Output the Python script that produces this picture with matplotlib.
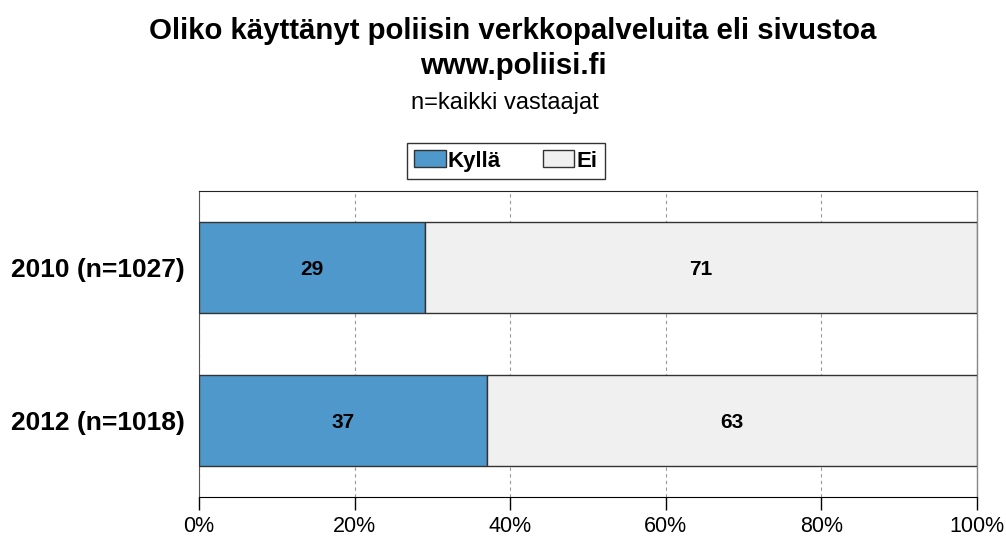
import matplotlib
matplotlib.use("Agg")
import matplotlib.pyplot as plt
from matplotlib.patches import Patch

plt.rcParams['font.family'] = ['Liberation Sans', 'DejaVu Sans']

categories = ["2010 (n=1027)", "2012 (n=1018)"]
series_names = ["Kyllä", "Ei"]
kylla = [29, 37]
ei = [71, 63]
xticks = [0, 20, 40, 60, 80, 100]
xticklabels = ["0%", "20%", "40%", "60%", "80%", "100%"]
colors = ["#4F98CB", "#F0F0F0"]

fig = plt.figure(figsize=(10.06, 5.37), dpi=100)
ax = fig.add_axes([199/1006, 1-497/537, (977-199)/1006, (497-191)/537])

y = list(range(len(categories)))
left = [0]*len(categories)
for vals, col, name in zip([kylla, ei], colors, series_names):
    ax.barh(y, vals, left=left, height=0.6, color=col, edgecolor="#333333", linewidth=1.0, label=name, zorder=3)
    for yi, l, v in zip(y, left, vals):
        ax.text(l + v/2, yi, f"{v}", ha="center", va="center_baseline", fontsize=15, fontweight="bold", zorder=4)
    left = [a + b for a, b in zip(left, vals)]

ax.set_xlim(0, 100)
ax.set_ylim(1.5, -0.5)
ax.set_yticks(y)
ax.set_yticklabels(categories, fontsize=19, fontweight="bold")
ax.tick_params(axis="y", length=0, pad=10)
ax.set_xticks(xticks)
ax.set_xticklabels(xticklabels, fontsize=15.5)
ax.tick_params(axis="x", direction="out", length=9, width=1, pad=5)
ax.xaxis.grid(True, linestyle=(0, (3, 3)), color="#999999", linewidth=0.8, zorder=0)
ax.spines["top"].set_color("#222222")
ax.spines["top"].set_linewidth(0.8)
ax.spines["right"].set_color("#888888")
ax.spines["right"].set_linewidth(1.0)
ax.spines["left"].set_color("#555555")
ax.spines["bottom"].set_color("black")

fig.text(513/1006, 1-31/537, "Oliko käyttänyt poliisin verkkopalveluita eli sivustoa", ha="center", va="center", fontsize=21.2, fontweight="bold")
fig.text(513/1006, 1-66/537, "www.poliisi.fi", ha="center", va="center", fontsize=21.2, fontweight="bold")
fig.text(505/1006, 1-103/537, "n=kaikki vastaajat", ha="center", va="center", fontsize=17)

handles = [Patch(facecolor=c, edgecolor="#333333", label=n) for c, n in zip(colors, series_names)]
leg = fig.legend(handles=handles, loc="center", bbox_to_anchor=(506/1006, 1-161/537), ncol=2,
                 prop={"weight": "bold", "size": 16}, frameon=True, fancybox=False,
                 edgecolor="black", handlelength=1.4, handleheight=0.8, handletextpad=0.1,
                 columnspacing=1.9, borderpad=0.35)
leg.get_frame().set_linewidth(1.0)

fig.savefig("out.png", dpi=100)
